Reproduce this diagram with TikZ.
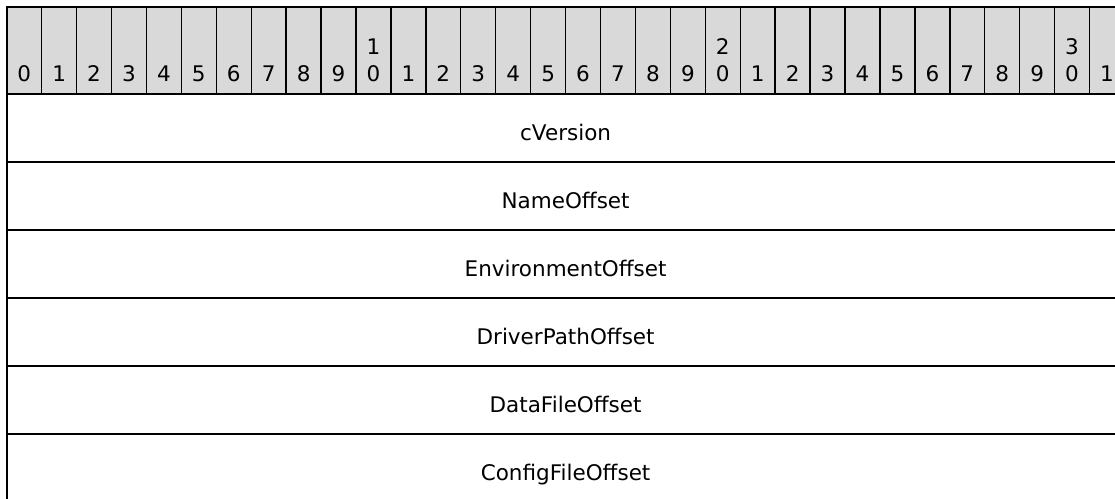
\documentclass[tikz,border=0pt]{standalone}
\usepackage{fontspec}
\setmainfont{DejaVu Sans}
\definecolor{hdrgray}{HTML}{D9D9D9}
\begin{document}
\begin{tikzpicture}[x=1pt, y=-1pt,
    bitcell/.style={rectangle, draw, line width=1.4pt, fill=hdrgray, minimum width=34.93pt, minimum height=87pt, inner sep=0pt, outer sep=0pt},
    bitnum/.style={font=\fontsize{21.5}{25}\selectfont, inner sep=0pt, anchor=base},
    field/.style={rectangle, draw, line width=2pt, minimum width=1117.8pt, minimum height=68pt, inner sep=0pt, outer sep=0pt, text height=24pt, text depth=0pt, font=\fontsize{21.5}{25}\selectfont},
    frame/.style={line width=2.2pt}
]
    \useasboundingbox (0,0) rectangle (1115,498);

    % Bit header
    \foreach \i in {0,...,31} {
        \node[bitcell] (bit\i) at ({6.7+34.93*(\i+0.5)}, 50.5) {};
        \pgfmathtruncatemacro{\ones}{mod(\i,10)}
        \pgfmathtruncatemacro{\tens}{div(\i,10)}
        \node[bitnum] (num\i) at ({6.7+34.93*(\i+0.5)}, 81.7) {\ones};
        \ifnum\ones=0 \ifnum\tens>0
            \node[bitnum] (tens\i) at ({6.7+34.93*(\i+0.5)}, 54) {\tens};
        \fi\fi
    }

    % Fields
    \foreach \name [count=\k from 0] in {cVersion, NameOffset, EnvironmentOffset, DriverPathOffset, DataFileOffset, ConfigFileOffset}
        \node[field] (row\k) at (565.6, {128+68*\k}) {\name};

    % Outer frame of the header
    \draw[frame] (bit0.south west) |- (bit31.north east) -- (bit31.south east);
\end{tikzpicture}
\end{document}
